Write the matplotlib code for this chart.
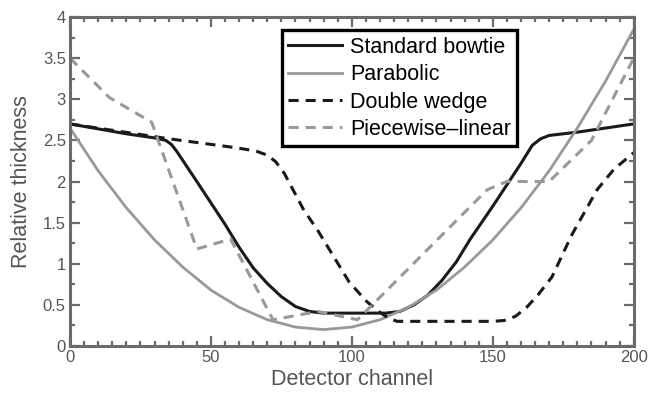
import numpy as np
import matplotlib
matplotlib.use('Agg')
import matplotlib.pyplot as plt
from matplotlib.ticker import MultipleLocator

plt.rcParams['font.family'] = ['Liberation Sans', 'DejaVu Sans']

# values
bowtie_x = [0, 10, 20, 30, 34, 36, 38, 45, 55, 60, 65, 70, 75, 80, 85, 90,
            112, 117, 122, 127, 132, 137, 142, 150, 160, 164, 167, 170, 180, 190, 200]
bowtie_y = [2.7, 2.64, 2.58, 2.53, 2.5, 2.45, 2.36, 2.0, 1.48, 1.2, 0.95, 0.76, 0.6, 0.48, 0.42, 0.4,
            0.4, 0.42, 0.5, 0.62, 0.8, 1.02, 1.3, 1.7, 2.22, 2.44, 2.52, 2.56, 2.6, 2.65, 2.7]

parab_x = [0, 10, 20, 30, 40, 50, 60, 70, 80, 90, 100, 110, 120, 130, 140, 150, 160, 170, 180, 190, 200]
parab_y = [2.65, 2.13, 1.68, 1.29, 0.96, 0.68, 0.47, 0.32, 0.23, 0.2, 0.23, 0.32, 0.47, 0.68, 0.96,
           1.29, 1.68, 2.13, 2.65, 3.22, 3.85]

wedge_x = [0, 35, 59, 66, 70, 73, 76, 83, 88, 99, 105, 109, 113, 116, 150, 154, 158, 162,
           166, 171, 178, 187, 193, 200]
wedge_y = [2.7, 2.52, 2.41, 2.37, 2.32, 2.24, 2.1, 1.65, 1.4, 0.78, 0.55, 0.43, 0.34, 0.3, 0.3, 0.31,
           0.36, 0.47, 0.62, 0.84, 1.35, 1.9, 2.15, 2.35]

piece_x = [0, 14, 29, 45, 57, 72, 88, 102, 148, 155, 170, 185, 200]
piece_y = [3.5, 3.02, 2.72, 1.18, 1.3, 0.32, 0.42, 0.32, 1.9, 2.0, 2.0, 2.5, 3.5]

axis_gray = '#6b6b6b'
light = '#999999'
dark = '#1a1a1a'

fig = plt.figure(figsize=(6.48, 3.95), dpi=100)
ax = fig.add_axes([0.108, 0.124, 0.87, 0.833])

ax.plot(bowtie_x, bowtie_y, color=dark, lw=2.2, label='Standard bowtie')
ax.plot(parab_x, parab_y, color=light, lw=2.0, label='Parabolic')
ax.plot(wedge_x, wedge_y, color=dark, lw=2.2, dashes=(3.3, 2.3), label='Double wedge')
ax.plot(piece_x, piece_y, color=light, lw=2.2, dashes=(3.3, 2.3), label='Piecewise\u2013linear')

ax.set_xlim(0, 200)
ax.set_ylim(0, 4)
ax.xaxis.set_major_locator(MultipleLocator(50))
ax.xaxis.set_minor_locator(MultipleLocator(5))
ax.yaxis.set_minor_locator(MultipleLocator(0.25))
ax.set_yticks(np.arange(0, 4.01, 0.5))
ax.set_yticklabels(['0', '0.5', '1', '1.5', '2', '2.5', '3', '3.5', '4'])

for s in ax.spines.values():
    s.set_color(axis_gray)
    s.set_linewidth(2.2)
ax.tick_params(which='both', direction='in', top=True, right=True, color=axis_gray,
               width=1.6, labelcolor='#555555', labelsize=12, pad=3)
ax.tick_params(which='major', length=7)
ax.tick_params(which='minor', length=3.5)

ax.set_xlabel('Detector channel', fontsize=15.5, color='#555555', labelpad=3)
ax.set_ylabel('Relative thickness', fontsize=15.5, color='#555555', labelpad=7.5)

leg = ax.legend(loc='upper left', bbox_to_anchor=(0.376, 0.96), borderaxespad=0,
                fontsize=15.5, handlelength=2.5, handletextpad=0.35, labelspacing=0.3,
                borderpad=0.3, fancybox=False, framealpha=1, edgecolor='black')
leg.get_frame().set_linewidth(2.4)

fig.savefig('out.png', dpi=100)
